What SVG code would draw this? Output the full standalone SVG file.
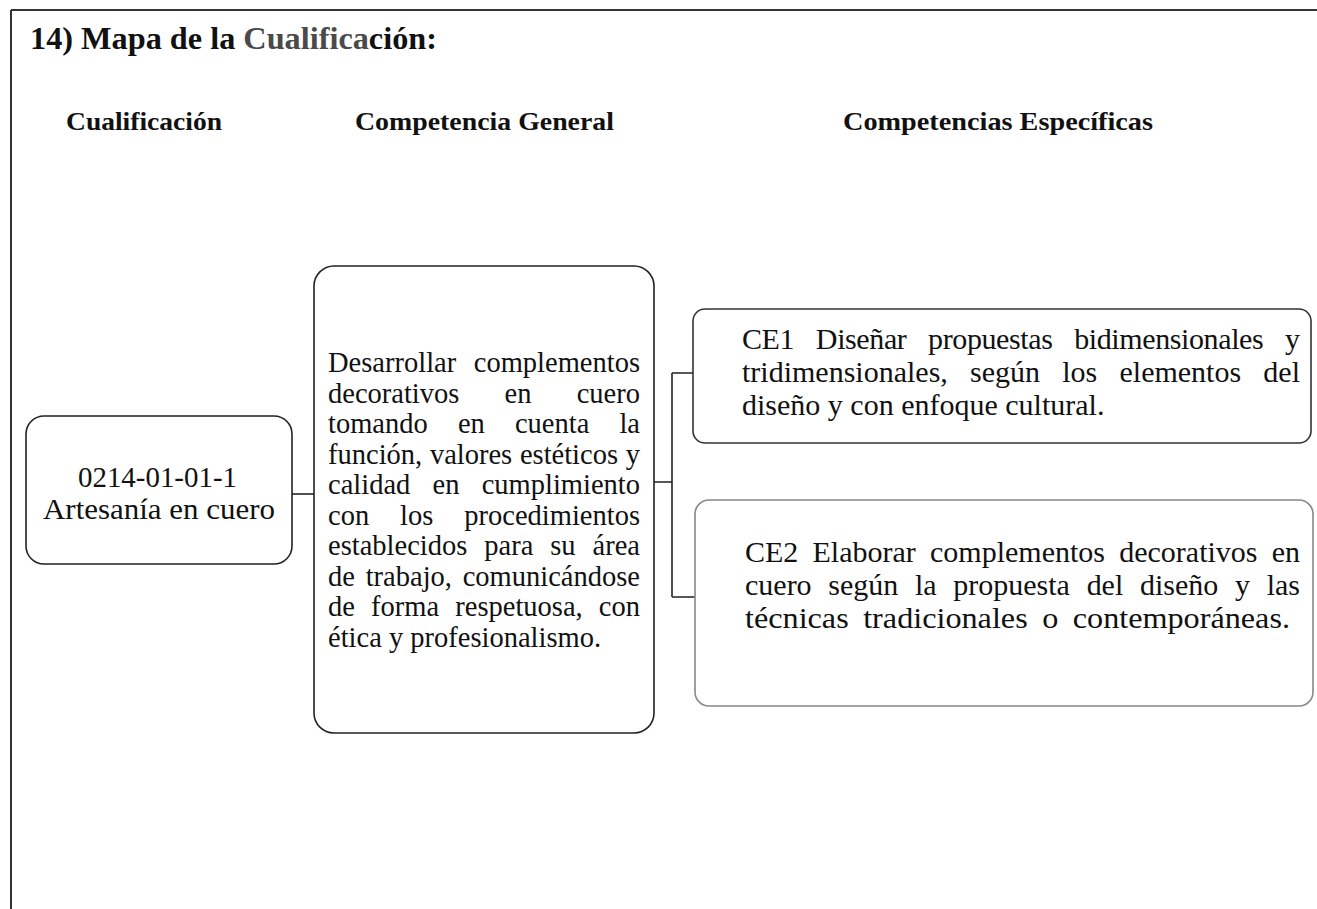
<svg xmlns="http://www.w3.org/2000/svg" width="1317" height="909" viewBox="0 0 1317 909">
<style>
.serif{font-family:"Liberation Serif","Times New Roman",serif;fill:#111}
.bold{font-weight:bold}
.box{fill:#fff;stroke:#222;stroke-width:1.6}
.mid{font-size:28.5px}
.ce{font-size:30px}
.conn{stroke:#222;stroke-width:1.6;fill:none}
</style>
<rect x="0" y="0" width="1317" height="909" fill="#fff"/>
<g id="frame">
<path d="M11 10 H1317 M11 10 V909" stroke="#333" stroke-width="2" fill="none"/>
</g>
<g id="title">
<text class="serif bold" x="30" y="49" font-size="31" textLength="407" lengthAdjust="spacingAndGlyphs">14) Mapa de la <tspan fill="#4a4a4a">Cualifica</tspan>ción:</text>
</g>
<g id="headers" class="serif bold" font-size="25">
<text x="66" y="130" textLength="156" lengthAdjust="spacingAndGlyphs">Cualificación</text>
<text x="355" y="130" textLength="259" lengthAdjust="spacingAndGlyphs">Competencia General</text>
<text x="843" y="130" textLength="310" lengthAdjust="spacingAndGlyphs">Competencias Específicas</text>
</g>
<g id="connectors">
<path class="conn" d="M292 494 H314"/>
<path class="conn" d="M654 482 H672 M672 373 V597 M672 373 H693 M672 597 H695"/>
</g>
<g id="node-cualificacion">
<rect class="box" x="26" y="416" width="266" height="148" rx="18"/>
<text class="serif" x="78" y="487" font-size="29" textLength="159" lengthAdjust="spacingAndGlyphs">0214-01-01-1</text>
<text class="serif" x="43" y="519" font-size="29" textLength="232" lengthAdjust="spacingAndGlyphs">Artesanía en cuero</text>
</g>
<g id="node-competencia-general">
<rect class="box" x="314" y="266" width="340" height="467" rx="20"/>
<g class="serif mid">
<text x="328" y="372" word-spacing="10.4" textLength="312" lengthAdjust="spacing">Desarrollar complementos</text>
<text x="328" y="403" word-spacing="38.1" textLength="312" lengthAdjust="spacing">decorativos en cuero</text>
<text x="328" y="433" word-spacing="23" textLength="312" lengthAdjust="spacing">tomando en cuenta la</text>
<text x="328" y="464" word-spacing="0.6" textLength="312" lengthAdjust="spacing">función, valores estéticos y</text>
<text x="328" y="494" word-spacing="15.1" textLength="312" lengthAdjust="spacing">calidad en cumplimiento</text>
<text x="328" y="525" word-spacing="23.8" textLength="312" lengthAdjust="spacing">con los procedimientos</text>
<text x="328" y="555" word-spacing="9.8" textLength="312" lengthAdjust="spacing">establecidos para su área</text>
<text x="328" y="586" word-spacing="3.6" textLength="312" lengthAdjust="spacing">de trabajo, comunicándose</text>
<text x="328" y="616" word-spacing="9" textLength="312" lengthAdjust="spacing">de forma respetuosa, con</text>
<text x="328" y="647">ética y profesionalismo.</text>
</g>
</g>
<g id="node-ce1">
<rect x="693" y="309" width="618" height="134" rx="12" fill="#fff" stroke="#333" stroke-width="1.6"/>
<g class="serif ce">
<text x="742" y="349" word-spacing="14.6" textLength="558" lengthAdjust="spacing">CE1 Diseñar propuestas bidimensionales y</text>
<text x="742" y="382" word-spacing="14.7" textLength="558" lengthAdjust="spacing">tridimensionales, según los elementos del</text>
<text x="742" y="415">diseño y con enfoque cultural.</text>
</g>
</g>
<g id="node-ce2">
<rect x="695" y="500" width="618" height="206" rx="14" fill="#fff" stroke="#888" stroke-width="1.6"/>
<g class="serif ce">
<text x="745" y="562" word-spacing="6.7" textLength="555" lengthAdjust="spacing">CE2 Elaborar complementos decorativos en</text>
<text x="745" y="595" word-spacing="9.2" textLength="555" lengthAdjust="spacing">cuero según la propuesta del diseño y las</text>
<text x="745" y="628" word-spacing="6" textLength="545" lengthAdjust="spacingAndGlyphs">técnicas tradicionales o contemporáneas.</text>
</g>
</g>
</svg>
